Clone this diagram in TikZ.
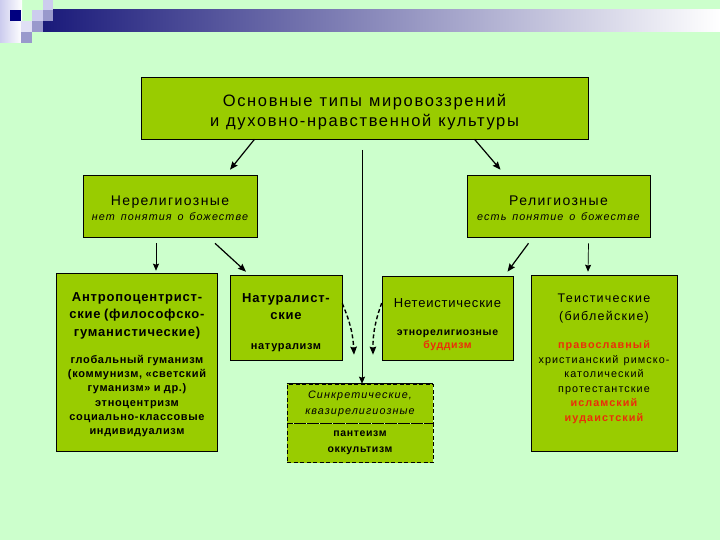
\documentclass[tikz,border=0pt]{standalone}
\usepackage{fontspec}
\setmainfont{Liberation Sans}[LetterSpace=6]
\newfontfamily\widefont{Liberation Sans}[LetterSpace=10]
\usepackage{tikz}
\usetikzlibrary{arrows.meta,shapes,positioning}
\definecolor{mvbg}{RGB}{204,255,204}
\definecolor{mvgreen}{RGB}{153,204,0}
\definecolor{mvred}{RGB}{235,45,10}
\definecolor{mvnavy}{RGB}{0,0,128}
\definecolor{mvbar}{RGB}{26,26,122}
\definecolor{mvlav}{RGB}{204,204,238}
\definecolor{mvlav2}{RGB}{153,153,204}
\tikzstyle{process} = [rectangle, align=center, draw=black, fill=mvgreen, inner sep=0pt, line width=0.6pt]
\tikzstyle{arrow} = [line width=1.2pt,-{Stealth[length=8pt,width=6.5pt,inset=1pt]}]
\tikzstyle{thinarrow} = [line width=0.7pt,-{Stealth[length=7pt,width=6pt,inset=1pt]}]
\tikzstyle{dasharrow} = [arrow, line width=1.4pt, dash pattern=on 4pt off 2.5pt]
\newcommand{\hdfont}{\fontsize{13}{17.5}\selectfont}
\newcommand{\bdfont}{\fontsize{11}{14.2}\selectfont}
% wide text with wider word gaps
\newcommand{\widesize}[2]{\widefont\fontsize{#1}{#2}\selectfont\spaceskip=0.42em\relax}
% extra space under the text (negative moves the text down)
\newcommand{\tailsk}[1]{\par\vskip#1\nointerlineskip\hbox{}}

\begin{document}
\begin{tikzpicture}[x=1pt,y=-1pt]
\useasboundingbox (0,0) rectangle (720,540);
\fill[mvbg] (0,0) rectangle (720,540);
% title bar
\shade[left color=mvbar, right color=white] (43,10) rectangle (720,32);
\shade[left color=mvlav, right color=white] (0,0) rectangle (22,43);
\fill[mvnavy] (10,10) rectangle (21,21);
\fill[mvlav] (32,10) rectangle (43,21);
\fill[mvlav] (43,0) rectangle (53,10);
\fill[mvlav2] (43,10) rectangle (53,21);
\fill[mvlav!60] (21,21) rectangle (32,32);
\fill[mvlav2] (32,21) rectangle (43,32);
\fill[mvlav2] (21,32) rectangle (32,43);

\node (main) [process, minimum width=447, minimum height=62, text width=447] at (364.5,108)
  {\widesize{16.5}{20}Основные типы мировоззрений\\и духовно-нравственной культуры\tailsk{-9pt}};
\node (nonrel) [process, minimum width=174, minimum height=62, text width=174] at (170,206)
  {\widesize{14}{17}Нерелигиозные\par{\fontsize{10.8}{15}\selectfont\itshape нет понятия о божестве\par}\tailsk{-4pt}};
\node (rel) [process, minimum width=183, minimum height=62, text width=183] at (558.5,206)
  {\widesize{14}{17}Религиозные\par{\fontsize{10.8}{15}\selectfont\itshape есть понятие о божестве\par}\tailsk{-4pt}};

\node (anthro) [process, minimum width=161, minimum height=178, text width=161] at (137,362)
  {\hdfont\bfseries Антропоцентрист-\\ские (философско-\\гуманистические)\par\vspace{13pt}
   \bdfont глобальный гуманизм\\(коммунизм, «светский\\гуманизм» и др.)\\этноцентризм\\социально-классовые\\индивидуализм\tailsk{-5pt}};
\node (natur) [process, minimum width=112, minimum height=85, text width=112] at (286,317.5)
  {\hdfont\bfseries Натуралист-\\ские\par\vspace{15pt}\bdfont натурализм\tailsk{-10pt}};
\node (nontheist) [process, minimum width=131, minimum height=84, text width=131] at (447.5,318)
  {\hdfont Нетеистические\par\vspace{14pt}\fontsize{10.5}{13.5}\selectfont\bfseries этнорелигиозные\\\textcolor{mvred}{буддизм}\tailsk{-14pt}};
\node (synkr) [process, dash pattern=on 4pt off 2.5pt, minimum width=146, minimum height=39, text width=146] at (360,403.5)
  {\widesize{10.8}{16}\itshape Синкретические,\\квазирелигиозные\par};
\node (synkrb) [process, dash pattern=on 4pt off 2.5pt, minimum width=146, minimum height=39, text width=146, below=0pt of synkr]
  {\fontsize{10.5}{16}\selectfont\bfseries пантеизм\\оккультизм\par};
\draw[line width=0.6pt] (synkr.north west) -- (synkr.north east);
\node (theist) [process, minimum width=146, minimum height=176, text width=146] at (604,363)
  {\widesize{12.5}{17.5}Теистические\\(библейские)\par\vspace{14pt}
   \fontsize{10.8}{14.5}\selectfont\textcolor{mvred}{\bfseries православный}\\христианский римско-\\католический\\протестантские\\
   \textcolor{mvred}{\bfseries исламский}\\\textcolor{mvred}{\bfseries иудаистский}\tailsk{8pt}};

\coordinate (vstart) at (362,150);
\draw[arrow] ([xshift=-110pt]main.south) -- ([xshift=60pt,yshift=5pt]nonrel.north);
\draw[arrow] ([xshift=110pt]main.south) -- ([xshift=-58pt,yshift=5pt]rel.north);
\draw[thinarrow] (vstart) -- (vstart |- synkr.north);
\draw[thinarrow] ([xshift=-14pt,yshift=-6pt]nonrel.south) -- ([xshift=19pt,yshift=2pt]anthro.north);
\draw[arrow] ([xshift=45pt,yshift=-6pt]nonrel.south) -- ([xshift=-40pt,yshift=3pt]natur.north);
\draw[arrow] ([xshift=-30pt,yshift=-6pt]rel.south) -- ([xshift=60pt,yshift=4pt]nontheist.north);
\draw[thinarrow] ([xshift=30pt,yshift=-6pt]rel.south) -- ([xshift=-16pt,yshift=3pt]theist.north);
\draw[dasharrow] ([yshift=14pt]natur.east) to[bend left=10] ([xshift=-6pt,yshift=29pt]synkr.north);
\draw[dasharrow] ([yshift=15pt]nontheist.west) to[bend right=10] ([xshift=13pt,yshift=29pt]synkr.north);
\end{tikzpicture}
\end{document}
